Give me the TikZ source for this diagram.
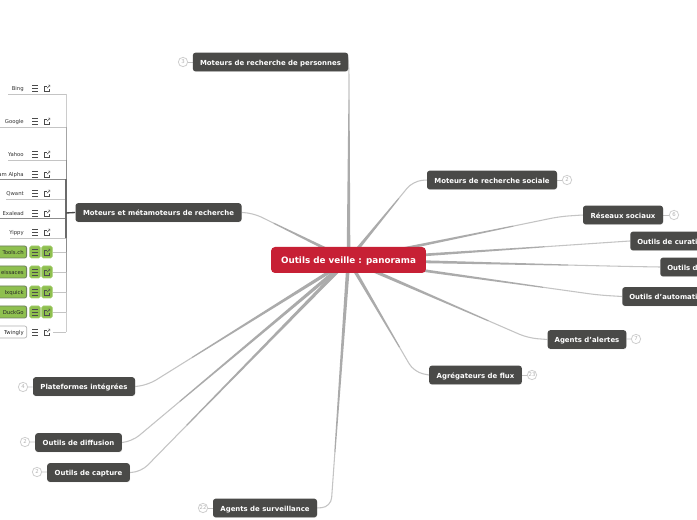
\documentclass[tikz,border=0pt]{standalone}
\usepackage{fontspec}
\setmainfont{DejaVu Sans}
\usetikzlibrary{calc,backgrounds,shadows}
\definecolor{topicdark}{HTML}{4A4A48}
\definecolor{rootred}{HTML}{C72035}
\definecolor{linegray}{HTML}{ABABAB}
\definecolor{thingray}{HTML}{C4C4C4}
\definecolor{leafgreen}{HTML}{8FC04F}
\definecolor{leafedge}{HTML}{6E7F60}
\definecolor{badge}{HTML}{CFCFCF}
\tikzset{
  x=0.75pt,y=-0.75pt,
  softshadow/.style={drop shadow={shadow xshift=0.2pt,shadow yshift=-0.5pt,opacity=0.18}},
  rootbox/.style={fill=rootred,rounded corners=3pt,text=white,font=\bfseries\fontsize{6.6pt}{8pt}\selectfont,minimum width=116.2pt,minimum height=19.5pt,inner sep=0pt,text height=5.6pt,text depth=0pt},
  topicbox/.style={fill=topicdark,rounded corners=2pt,text=white,font=\bfseries\fontsize{5.2pt}{6pt}\selectfont,minimum height=14pt,inner sep=0pt,text height=4.6pt,text depth=0pt,softshadow},
  cutbox/.style={topicbox,anchor=west,inner xsep=5.25pt},
  branch/.style={thingray,line width=0.8pt,rounded corners=7pt},
  stub/.style={thingray,line width=0.6pt},
  badgec/.style={circle,draw=badge,line width=0.6pt,fill=white,minimum size=7pt,inner sep=0pt,text=black!30,font=\fontsize{4pt}{4.5pt}\selectfont},
  leaflabel/.style={anchor=east,inner sep=0pt,text=black!80,font=\fontsize{4pt}{5pt}\selectfont,text height=3.4pt,text depth=0pt},
  greenbox/.style={fill=leafgreen,draw=leafedge,line width=0.6pt,rounded corners=1.5pt,inner sep=0pt,minimum height=9pt,text=black!85,font=\fontsize{4pt}{5pt}\selectfont,anchor=east,text height=3.4pt,text depth=0pt},
  whitebox/.style={fill=white,draw=black!30,line width=0.5pt,rounded corners=1.5pt,inner sep=0pt,minimum height=9pt,text=black!85,font=\fontsize{4pt}{5pt}\selectfont,anchor=east,text height=3.4pt,text depth=0pt},
  iconbox/.style={fill=leafgreen,draw=leafgreen!80!white,line width=0.5pt,rounded corners=1.2pt,inner sep=0pt,minimum width=8pt,minimum height=9pt},
  iconline/.style={black!70,line width=0.35pt},
}
\newcommand{\taperlink}[1]{%
  \fill[linegray] ($(#1)!0.45pt!90:(root.center)$) -- ($(root.center)!1.4pt!-90:(#1)$) -- ($(root.center)!1.4pt!90:(#1)$) -- ($(#1)!0.45pt!-90:(root.center)$) -- cycle;}
\newcommand{\linkvia}[3]{%
  \coordinate (#3) at ($(#2)!0.22!(root.center)$);
  \draw[branch] (#1) -- (#2) -- (#3);
  \taperlink{#3}}
\newcommand{\leficons}[2]{%
  \draw[iconline] (#1-3,#2-3) -- ++(6,0) (#1-3,#2) -- ++(6,0) (#1-3,#2+3) -- ++(6,0);
  \draw[iconline] (#1+11.5,#2-2.2) -- (#1+9.2,#2-2.2) -- (#1+9.2,#2+3) -- (#1+14.4,#2+3) -- (#1+14.4,#2+0.8);
  \draw[iconline] (#1+12,#2+0.3) -- (#1+14.6,#2-2.4) (#1+12.8,#2-3) -- (#1+15,#2-3) -- (#1+15,#2-0.9);
}
\newcommand{\rtext}[2]{\makebox[#1][r]{#2\hspace{2.2pt}}}
\begin{document}
\begin{tikzpicture}
\useasboundingbox (0,0) rectangle (697,520);
\begin{scope}
\clip (0,0) rectangle (697,520);
\node[rootbox] (root) at (348.5,260) {Outils de veille : panorama};
\node[topicbox,minimum width=116.5pt] (personnes) at (270.5,62) {Moteurs de recherche de personnes};
\node[topicbox,minimum width=97.5pt] (sociale) at (492,180) {Moteurs de recherche sociale};
\node[topicbox,minimum width=60pt] (reseaux) at (623,215) {Réseaux sociaux};
\node[cutbox] (curation) at (630,241) {\makebox[60pt][l]{Outils de curati}};
\node[cutbox] (veille) at (660,267) {\makebox[60pt][l]{Outils d}};
\node[cutbox] (automat) at (622,296.5) {\makebox[60pt][l]{Outils d'automati}};
\node[topicbox,minimum width=59pt] (alertes) at (587,339.5) {Agents d'alertes};
\node[topicbox,minimum width=69.5pt] (flux) at (475.5,375) {Agrégateurs de flux};
\node[topicbox,minimum width=124.5pt] (metamot) at (158.5,212.5) {Moteurs et métamoteurs de recherche};
\node[topicbox,minimum width=76.5pt] (plateformes) at (84,386.5) {Plateformes intégrées};
\node[topicbox,minimum width=65pt] (diffusion) at (78.5,442.5) {Outils de diffusion};
\node[topicbox,minimum width=62pt] (capture) at (88.5,472.5) {Outils de capture};
\node[topicbox,minimum width=78pt] (surveil) at (265,508) {Agents de surveillance};
\node[badgec] (bpers) at (183,62) {3};
\node[badgec] (bsoc) at (567,180) {2};
\node[badgec] (bres) at (674,215) {6};
\node[badgec] (bale) at (636,339) {7};
\node[badgec] (bflu) at (532,375) {23};
\node[badgec] (bpla) at (23,387) {4};
\node[badgec] (bdif) at (25,442) {2};
\node[badgec] (bcap) at (37,472) {2};
\node[badgec] (bsur) at (203,508) {22};
\node[leaflabel] (bing) at (24,88) {Bing};
\node[leaflabel] (google) at (24,121) {Google};
\node[leaflabel] (yahoo) at (24,154) {Yahoo};
\node[leaflabel] (alpha) at (24,174) {am Alpha};
\node[leaflabel] (qwant) at (24,193) {Qwant};
\node[leaflabel] (exalead) at (24,213) {Exalead};
\node[leaflabel] (yippy) at (24,232) {Yippy};
\node[greenbox] (tools) at (27,252) {\rtext{24pt}{Tools.ch}};
\node[greenbox] (eiss) at (27,272) {\rtext{24pt}{eissaces}};
\node[greenbox] (ixq) at (27,292) {\rtext{24pt}{Ixquick}};
\node[greenbox] (duck) at (27,312) {\rtext{24pt}{DuckGo}};
\node[whitebox] (twingly) at (27,332) {\rtext{24pt}{Twingly}};
\foreach \yy/\nm in {252/a,272/b,292/c,312/d}{
  \node[iconbox] (icl\nm) at (35,\yy) {};
  \node[iconbox] (icr\nm) at (47,\yy) {};
}
\foreach \yy in {88,121,154,174,193,213,232,252,272,292,312,332}{\leficons{35}{\yy}}
\end{scope}
\begin{pgfonlayer}{background}
\fill[white] (0,0) rectangle (697,520);
\coordinate (s1) at (66,94);
\coordinate (s2) at (66,127);
\coordinate (s3) at (66,160);
\coordinate (s4) at (66,179);
\coordinate (s5) at (66,199);
\coordinate (s6) at (66,218);
\coordinate (s7) at (66,238);
\coordinate (s8) at (66,252);
\coordinate (s9) at (66,272);
\coordinate (s10) at (66,292);
\coordinate (s11) at (66,312);
\coordinate (s12) at (66,332);
\coordinate (shub) at (66,213);
\draw[thingray,line width=0.6pt] (8,94) -- (s1);
\draw[thingray,line width=0.6pt] (0,127) -- (s2);
\draw[thingray,line width=0.6pt] (8,160) -- (s3);
\draw[black!45,line width=0.5pt] (0,179) -- (s4);
\draw[thingray,line width=0.6pt] (6,199) -- (s5);
\draw[black!45,line width=0.5pt] (0,218) -- (s6);
\draw[thingray,line width=0.6pt] (10,238) -- (s7);
\draw[thingray,line width=0.7pt] (icra) -- (s8);
\draw[thingray,line width=0.7pt] (icrb) -- (s9);
\draw[thingray,line width=0.7pt] (icrc) -- (s10);
\draw[thingray,line width=0.7pt] (icrd) -- (s11);
\draw[thingray,line width=0.7pt] (53,332) -- (s12);
\draw[line width=0.7pt,black!20] (s1) -- (s2);
\draw[line width=0.7pt,black!35] (s2) -- (s3);
\draw[line width=0.7pt,black!45] (s3) -- (s4);
\draw[line width=0.8pt,black!58] (s4) -- (shub) -- (s7);
\draw[line width=0.7pt,black!45] (s7) -- (s8);
\draw[line width=0.7pt,black!38] (s8) -- (s9);
\draw[line width=0.7pt,black!30] (s9) -- (s10);
\draw[line width=0.7pt,black!25] (s10) -- (s11);
\draw[line width=0.7pt,black!20] (s11) -- (s12);
\draw[line width=1pt,black!72] (shub) -- (metamot.west);
\foreach \bb/\tt in {bpers/personnes,bsoc/sociale,bres/reseaux,bale/alertes,bflu/flux,bpla/plateformes,bdif/diffusion,bcap/capture,bsur/surveil}{\draw[stub] (\bb) -- (\tt);}
\coordinate (epers) at (349,66);
\coordinate (tpers) at (349,100);
\draw[branch] (personnes.east) -- (epers) -- (tpers);
\taperlink{tpers}
\coordinate (esoc) at (413,181);
\linkvia{sociale.west}{esoc}{tsoc}
\coordinate (eres) at (560,216.5);
\linkvia{reseaux.west}{eres}{tres}
\coordinate (ecur) at (600,243);
\linkvia{curation.west}{ecur}{tcur}
\coordinate (evei) at (630,266.5);
\linkvia{veille.west}{evei}{tvei}
\coordinate (eaut) at (598,295);
\linkvia{automat.west}{eaut}{taut}
\coordinate (eale) at (528,338);
\linkvia{alertes.west}{eale}{tale}
\coordinate (eflu) at (414,372);
\linkvia{flux.west}{eflu}{tflu}
\coordinate (esur) at (331,507);
\linkvia{surveil.east}{esur}{tsur}
\coordinate (ecap) at (141,472);
\linkvia{capture.east}{ecap}{tcap}
\coordinate (edif) at (132,441.5);
\linkvia{diffusion.east}{edif}{tdif}
\coordinate (epla) at (148,385);
\linkvia{plateformes.east}{epla}{tpla}
\coordinate (emet) at (253,213);
\linkvia{metamot.east}{emet}{tmet}
\end{pgfonlayer}
\end{tikzpicture}
\end{document}
